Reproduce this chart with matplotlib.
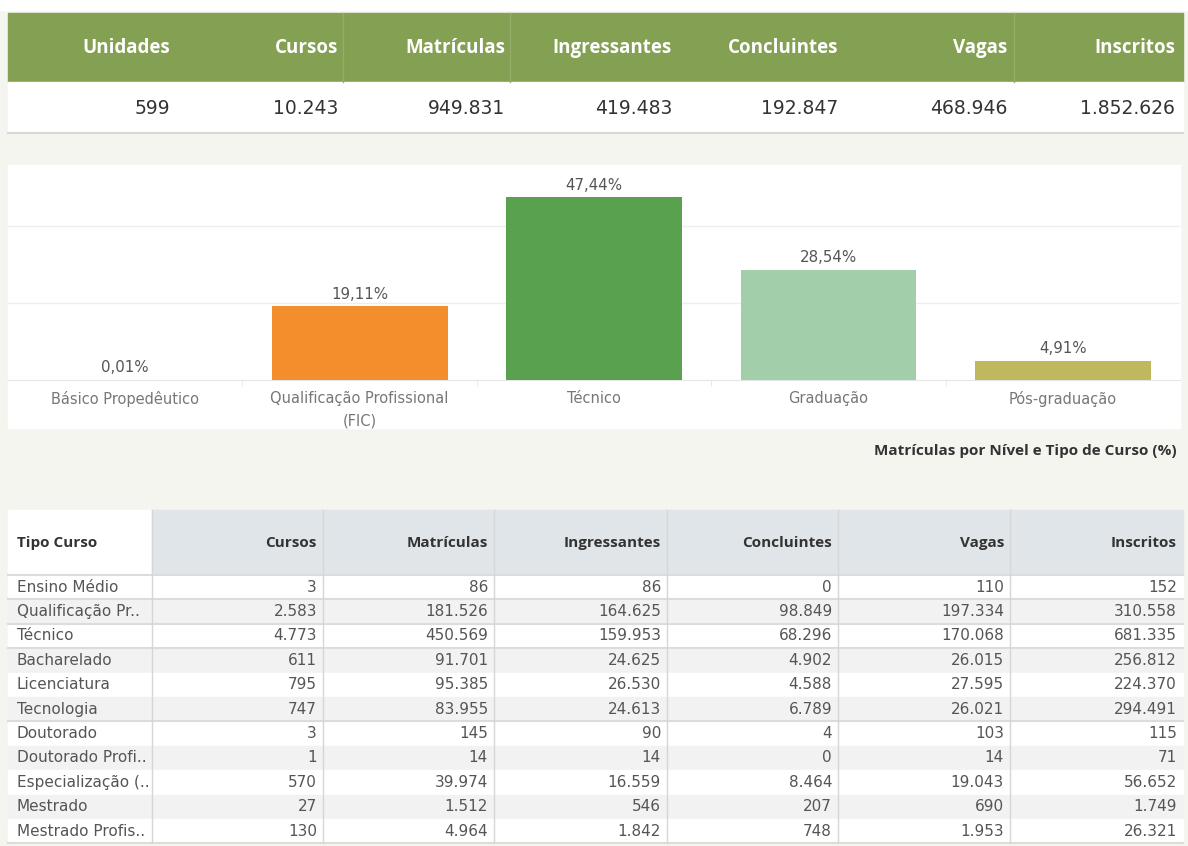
import matplotlib
matplotlib.use("Agg")
import matplotlib.pyplot as plt
from matplotlib.patches import Rectangle

# data
top_cols = ["Unidades", "Cursos", "Matrículas", "Ingressantes", "Concluintes", "Vagas", "Inscritos"]
top_vals = [599, 10243, 949831, 419483, 192847, 468946, 1852626]

niveis = ["Básico Propedêutico", "Qualificação Profissional\n(FIC)", "Técnico", "Graduação", "Pós-graduação"]
perc = [0.01, 19.11, 47.44, 28.54, 4.91]
bar_colors = ["#9c9c9c", "#f28e2b", "#59a14f", "#a2ceaa", "#c0b85c"]

tab_cols = ["Tipo Curso", "Cursos", "Matrículas", "Ingressantes", "Concluintes", "Vagas", "Inscritos"]
tipos = ["Ensino Médio", "Qualificação Pr..", "Técnico", "Bacharelado", "Licenciatura", "Tecnologia",
         "Doutorado", "Doutorado Profi..", "Especialização (..", "Mestrado", "Mestrado Profis.."]
cursos = [3, 2583, 4773, 611, 795, 747, 3, 1, 570, 27, 130]
matriculas = [86, 181526, 450569, 91701, 95385, 83955, 145, 14, 39974, 1512, 4964]
ingressantes = [86, 164625, 159953, 24625, 26530, 24613, 90, 14, 16559, 546, 1842]
concluintes = [0, 98849, 68296, 4902, 4588, 6789, 4, 0, 8464, 207, 748]
vagas = [110, 197334, 170068, 26015, 27595, 26021, 103, 14, 19043, 690, 1953]
inscritos = [152, 310558, 681335, 256812, 224370, 294491, 115, 71, 56652, 1749, 26321]


def fmt(v):
    return f"{v:,}".replace(",", ".")


W, H = 1188, 846
BG = "#f5f5ef"
plt.rcParams["font.family"] = ["DejaVu Sans"]
bold_font = ["Open Sans", "DejaVu Sans"]

fig = plt.figure(figsize=(W / 100, H / 100), dpi=100, facecolor=BG)

# canvas in pixel coords for the dashboard pieces
cv = fig.add_axes([0, 0, 1, 1])
cv.set_xlim(0, W)
cv.set_ylim(H, 0)
cv.axis("off")
cv.add_patch(Rectangle((0, 0), W, 10, color="white", zorder=0))

# --- top summary table ---
cv.add_patch(Rectangle((8, 13), 1175, 69, color="#84a052", zorder=1))
cv.add_patch(Rectangle((8, 82), 1175, 51, color="white", zorder=1))
cv.plot([8, 1183], [133.5, 133.5], color="#d8d8d8", lw=1.5, zorder=2)
top_right = [170, 338, 505, 672, 838, 1007, 1175]
for i, (c, v) in enumerate(zip(top_cols, top_vals)):
    cv.text(top_right[i], 48, c, ha="right", va="center", fontsize=13.5,
            fontweight="bold", color="white", family=bold_font, zorder=3)
    cv.text(top_right[i], 109, fmt(v), ha="right", va="center", fontsize=13.5,
            color="#333333", zorder=3)
for sx in [343, 510, 1014]:
    cv.plot([sx, sx], [13, 82], color="#94ad68", lw=1, zorder=2)

# --- bar chart panel ---
cv.add_patch(Rectangle((8, 165), 1172, 263, color="white", zorder=1))
ax = fig.add_axes([8 / W, (H - 380) / H, 1172 / W, 212 / H])
ax.set_facecolor("none")
x = range(len(niveis))
ax.bar(x, perc, width=0.75, color=bar_colors, zorder=3)
for i, p in enumerate(perc):
    ax.text(i, p + 1.2, f"{p:.2f}%".replace(".", ","), ha="center", va="bottom",
            fontsize=10.8, color="#555555")
ax.set_xlim(-0.5, len(niveis) - 0.5)
ax.set_ylim(0, 55)
ax.set_yticks([20, 40])
ax.yaxis.grid(True, color="#eeeeee", lw=1)
ax.tick_params(axis="y", left=False, labelleft=False)
ax.set_xticks(list(x))
ax.set_xticklabels(niveis, fontsize=10.5, color="#777777", linespacing=1.6)
ax.tick_params(axis="x", length=0, pad=8)
ax.set_xticks([0.5, 1.5, 2.5, 3.5], minor=True)
ax.tick_params(axis="x", which="minor", length=4, color="#e6e6e6")
for s in ["top", "right", "left"]:
    ax.spines[s].set_visible(False)
ax.spines["bottom"].set_color("#e6e6e6")

cv.text(1177, 451, "Matrículas por Nível e Tipo de Curso (%)", ha="right", va="center",
        fontsize=11, fontweight="bold", color="#333333", family=bold_font, zorder=3)

# --- bottom table ---
edges = [8, 152, 323, 494, 667, 838, 1010, 1183]
head_top, head_bot = 510, 575
row_h = 24.4
cv.add_patch(Rectangle((edges[0], head_top), edges[1] - edges[0], head_bot - head_top,
                       color="white", zorder=1))
cv.add_patch(Rectangle((edges[1], head_top), edges[-1] - edges[1], head_bot - head_top,
                       color="#dfe5e8", zorder=1))
cv.text(17, 543, tab_cols[0], ha="left", va="center", fontsize=11, fontweight="bold",
        color="#333333", family=bold_font, zorder=3)
for j in range(1, len(tab_cols)):
    cv.text(edges[j + 1] - 6, 543, tab_cols[j], ha="right", va="center", fontsize=11,
            fontweight="bold", color="#333333", family=bold_font, zorder=3)

columns = [cursos, matriculas, ingressantes, concluintes, vagas, inscritos]
n = len(tipos)
for r in range(n):
    y0 = head_bot + r * row_h
    shade = "#f2f2f2" if r % 2 else "white"
    cv.add_patch(Rectangle((edges[0], y0), edges[-1] - edges[0], row_h, color=shade, zorder=1))
    cv.text(17, y0 + row_h / 2, tipos[r], ha="left", va="center", fontsize=11,
            color="#555555", zorder=3)
    for j, col in enumerate(columns):
        cv.text(edges[j + 2] - 6, y0 + row_h / 2, fmt(col[r]), ha="right", va="center",
                fontsize=11, color="#555555", zorder=3)

# group separators and column lines
for r in [0, 1, 2, 5, 10]:
    yy = head_bot + (r + 1) * row_h
    cv.plot([edges[0], edges[-1]], [yy, yy], color="#dcdcdc", lw=1.5, zorder=2)
cv.plot([edges[0], edges[-1]], [head_bot, head_bot], color="#dcdcdc", lw=1.5, zorder=2)
for e in edges[1:-1]:
    cv.plot([e, e], [head_top, head_bot + n * row_h], color="#d6d6d6", lw=1, zorder=2)

fig.savefig("out.png", dpi=100, facecolor=BG)
